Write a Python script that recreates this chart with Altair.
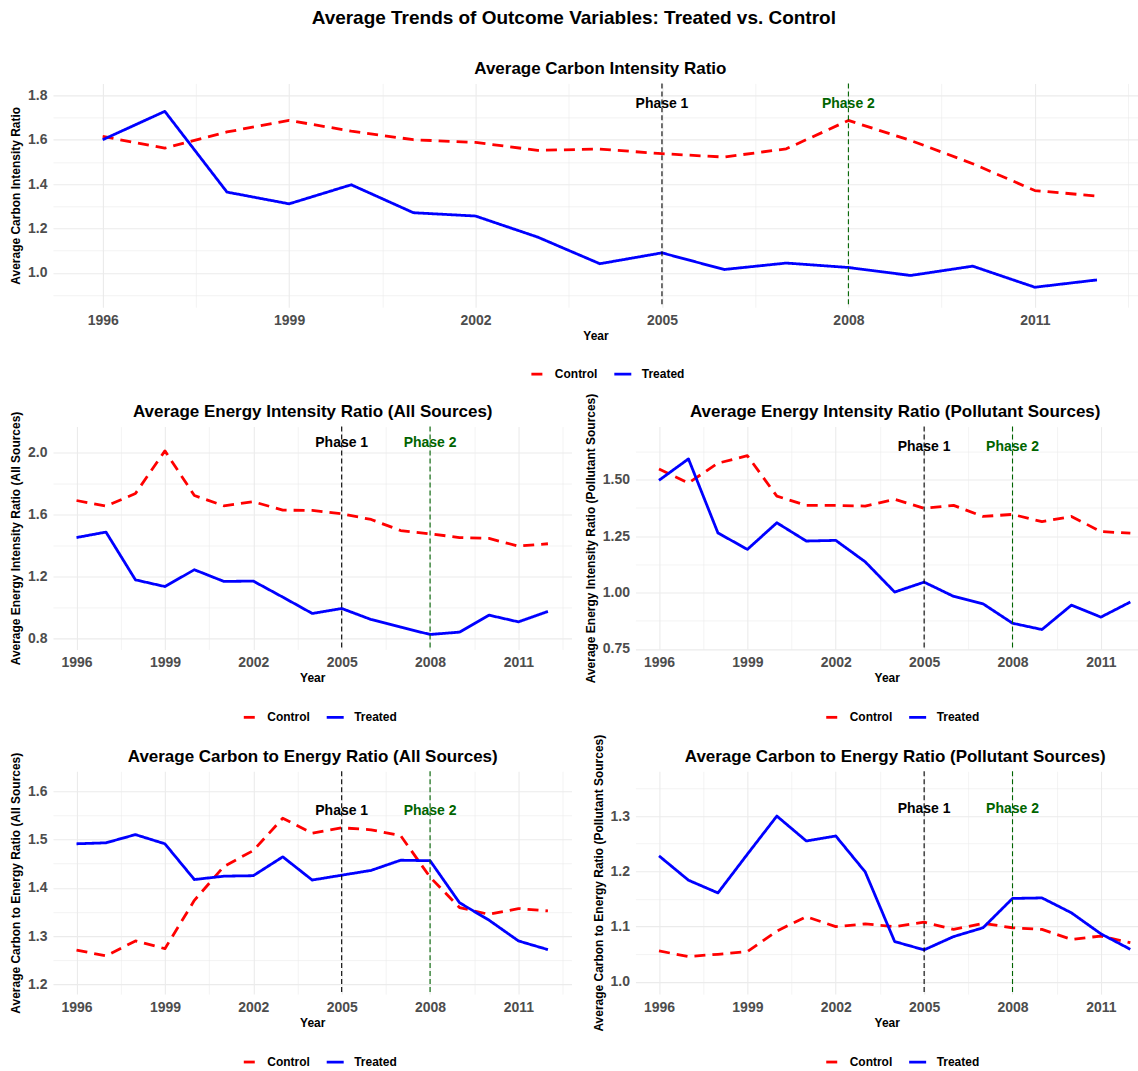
import json

import altair as alt
import pandas as pd

# ---------------------------------------------------------------------------
# Data: yearly averages for the treated and control groups
# ---------------------------------------------------------------------------
years = list(range(1996, 2013))
groups = ["Control", "Treated"]

carbon_int_control = [1.615, 1.562, 1.635, 1.687, 1.639, 1.600, 1.588, 1.552, 1.558,
                      1.537, 1.522, 1.559, 1.687, 1.597, 1.492, 1.371, 1.346]
carbon_int_treated = [1.600, 1.728, 1.364, 1.311, 1.397, 1.271, 1.256, 1.161, 1.041,
                      1.090, 1.015, 1.044, 1.024, 0.988, 1.030, 0.935, 0.968]

energy_all_control = [1.689, 1.653, 1.734, 2.008, 1.721, 1.655, 1.681, 1.627, 1.625,
                      1.603, 1.567, 1.496, 1.475, 1.451, 1.445, 1.396, 1.411]
energy_all_treated = [1.451, 1.486, 1.179, 1.136, 1.244, 1.169, 1.171, 1.068, 0.963,
                      0.995, 0.924, 0.875, 0.828, 0.843, 0.952, 0.909, 0.976]

energy_pol_control = [1.547, 1.485, 1.573, 1.606, 1.427, 1.386, 1.386, 1.383, 1.413,
                      1.373, 1.386, 1.337, 1.346, 1.314, 1.337, 1.270, 1.263]
energy_pol_treated = [1.497, 1.592, 1.264, 1.191, 1.309, 1.228, 1.231, 1.136, 1.002,
                      1.046, 0.983, 0.950, 0.864, 0.836, 0.944, 0.891, 0.958]

c2e_all_control = [1.271, 1.259, 1.290, 1.274, 1.374, 1.444, 1.477, 1.544, 1.513,
                   1.524, 1.520, 1.508, 1.422, 1.359, 1.345, 1.357, 1.352]
c2e_all_treated = [1.491, 1.493, 1.510, 1.491, 1.417, 1.424, 1.425, 1.464, 1.416,
                   1.426, 1.436, 1.457, 1.456, 1.369, 1.333, 1.290, 1.272]

c2e_pol_control = [1.056, 1.046, 1.050, 1.055, 1.092, 1.118, 1.100, 1.105, 1.100,
                   1.108, 1.095, 1.106, 1.098, 1.095, 1.077, 1.083, 1.071]
c2e_pol_treated = [1.228, 1.184, 1.161, 1.231, 1.300, 1.255, 1.264, 1.199, 1.073,
                   1.058, 1.082, 1.098, 1.151, 1.152, 1.125, 1.087, 1.059]

phase_years = [2005, 2008]
phase_names = ["Phase 1", "Phase 2"]

x_major = [1996, 1999, 2002, 2005, 2008, 2011]
x_minor = [1997.5, 2000.5, 2003.5, 2006.5, 2009.5, 2012.5]

# ---------------------------------------------------------------------------
# Styling
# ---------------------------------------------------------------------------
FONT = "Liberation Sans"
X_MIN = 1995.2
X_FULL = 2012.8
LEGEND_HALF = 74


def is_in(values):
    return "indexof(%s, datum.value) >= 0" % json.dumps(values)


def grid_width(major):
    return {"condition": {"test": is_in(major), "value": 1.1}, "value": 0.6}


def make_panel(title, y_title, control, treated, y_domain, y_major, y_minor,
               y_format, label_y, width, height, x_max):
    px_per_year = width / (x_max - X_MIN)
    centre = px_per_year * (X_FULL - X_MIN) / 2

    lines_df = pd.DataFrame({
        "year": years * 2,
        "group": [groups[0]] * len(years) + [groups[1]] * len(years),
        "value": control + treated,
    })
    phase_df = pd.DataFrame({"year": phase_years, "phase": phase_names})

    x_scale = alt.Scale(domain=[X_MIN, x_max], nice=False, zero=False)
    y_scale = alt.Scale(domain=y_domain, nice=False, zero=False)

    x_ticks = [v for v in x_major + x_minor if X_MIN <= v <= x_max]
    y_ticks = [v for v in y_major + y_minor if y_domain[0] <= v <= y_domain[1]]

    x_axis = alt.Axis(
        values=x_ticks, format="d",
        labelExpr=f"{is_in(x_major)} ? datum.label : ''",
        labelOverlap=False, labelPadding=6,
        title="Year", titlePadding=3,
        gridWidth=grid_width(x_major),
    )
    y_axis = alt.Axis(
        values=y_ticks, format=y_format,
        labelExpr=f"{is_in(y_major)} ? datum.label : ''",
        labelOverlap=False, labelPadding=6,
        title=y_title, titlePadding=5,
        gridWidth=grid_width(y_major),
    )
    legend = alt.Legend(
        title=None, orient="none", direction="horizontal",
        legendX=centre - LEGEND_HALF, legendY=281,
        symbolType="stroke", symbolSize=289, symbolStrokeWidth=2.8,
        symbolDashOffset=14, labelOffset=9, columnPadding=10,
    )

    lines = alt.Chart(lines_df).mark_line(strokeWidth=2.8, strokeJoin="round").encode(
        x=alt.X("year:Q", scale=x_scale, axis=x_axis),
        y=alt.Y("value:Q", scale=y_scale, axis=y_axis),
        color=alt.Color("group:N",
                        scale=alt.Scale(domain=groups, range=["#FF0000", "#0000FF"]),
                        legend=legend),
        strokeDash=alt.StrokeDash("group:N",
                                  scale=alt.Scale(domain=groups, range=[[11, 7], [1, 0]]),
                                  legend=legend),
    )

    phase_colour = alt.condition(alt.datum.phase == "Phase 1",
                                 alt.value("#000000"), alt.value("#006400"))

    # The panel heading is carried by a bare top axis so that it sits a fixed
    # distance above the plotting area.
    rules = alt.Chart(phase_df).mark_rule(strokeWidth=1.1, strokeDash=[5, 3]).encode(
        x=alt.X("year:Q", scale=x_scale,
                axis=alt.Axis(orient="top", labels=False, grid=False,
                              title=title, titleFontSize=17, titleColor="black",
                              titleX=centre, titleBaseline="alphabetic",
                              titlePadding=10)),
        color=phase_colour,
    )
    labels = alt.Chart(phase_df).mark_text(
        font=FONT, fontSize=14, fontWeight="bold"
    ).encode(
        x=alt.X("year:Q", scale=x_scale, axis=None),
        y=alt.datum(label_y, scale=y_scale, axis=y_axis),
        text="phase:N",
        color=phase_colour,
    )
    return (
        alt.layer(lines, rules, labels)
        .resolve_axis(x="independent")
        .properties(width=width, height=height)
    )


top = make_panel(
    "Average Carbon Intensity Ratio", "Average Carbon Intensity Ratio",
    carbon_int_control, carbon_int_treated,
    [0.845, 1.854], [1.0, 1.2, 1.4, 1.6, 1.8], [0.9, 1.1, 1.3, 1.5, 1.7],
    ".1f", 1.762, 1086, 224, 2012.66,
)
mid_left = make_panel(
    "Average Energy Intensity Ratio (All Sources)",
    "Average Energy Intensity Ratio (All Sources)",
    energy_all_control, energy_all_treated,
    [0.732, 2.164], [0.8, 1.2, 1.6, 2.0], [1.0, 1.4, 1.8],
    ".1f", 2.056, 519, 223, X_FULL,
)
mid_right = make_panel(
    "Average Energy Intensity Ratio (Pollutant Sources)",
    "Average Energy Intensity Ratio (Pollutant Sources)",
    energy_pol_control, energy_pol_treated,
    [0.748, 1.735], [0.75, 1.0, 1.25, 1.5], [0.875, 1.125, 1.375, 1.625],
    ".2f", 1.646, 503, 223, 2012.26,
)
bot_left = make_panel(
    "Average Carbon to Energy Ratio (All Sources)",
    "Average Carbon to Energy Ratio (All Sources)",
    c2e_all_control, c2e_all_treated,
    [1.180, 1.641], [1.2, 1.3, 1.4, 1.5, 1.6], [1.25, 1.35, 1.45, 1.55],
    ".1f", 1.558, 519, 223, X_FULL,
)
bot_right = make_panel(
    "Average Carbon to Energy Ratio (Pollutant Sources)",
    "Average Carbon to Energy Ratio (Pollutant Sources)",
    c2e_pol_control, c2e_pol_treated,
    [0.978, 1.381], [1.0, 1.1, 1.2, 1.3], [1.05, 1.15, 1.25, 1.35],
    ".1f", 1.313, 503, 223, 2012.26,
)

indep_scales = dict(color="independent", strokeDash="independent",
                    x="independent", y="independent")
indep_legends = dict(color="independent", strokeDash="independent")


def row(left, right):
    return (
        alt.hconcat(left, right, spacing=64, bounds="flush")
        .resolve_scale(**indep_scales)
        .resolve_legend(**indep_legends)
    )


lower = (
    alt.vconcat(row(mid_left, mid_right), row(bot_left, bot_right), spacing=10)
    .resolve_scale(**indep_scales)
    .resolve_legend(**indep_legends)
)

chart = (
    alt.vconcat(top, lower, spacing=12.5)
    .resolve_scale(**indep_scales)
    .resolve_legend(**indep_legends)
    .properties(
        title=alt.TitleParams(
            "Average Trends of Outcome Variables: Treated vs. Control",
            font=FONT, fontSize=19, fontWeight="bold", color="black",
            anchor="middle", offset=31,
        ),
        padding={"left": 9, "top": 9, "right": 0, "bottom": 0},
        background="white",
    )
    .configure_view(strokeWidth=0)
    .configure_axis(
        labelFont=FONT, titleFont=FONT,
        labelFontSize=14, labelFontWeight="bold", labelColor="#4D4D4D",
        titleFontSize=12, titleFontWeight="bold", titleColor="black",
        domain=False, ticks=False, gridColor="#EBEBEB",
    )
    .configure_legend(
        labelFont=FONT, labelFontSize=12, labelFontWeight="bold", labelColor="black",
    )
)

chart.save("out.html", embed_options={"renderer": "svg", "actions": False})
